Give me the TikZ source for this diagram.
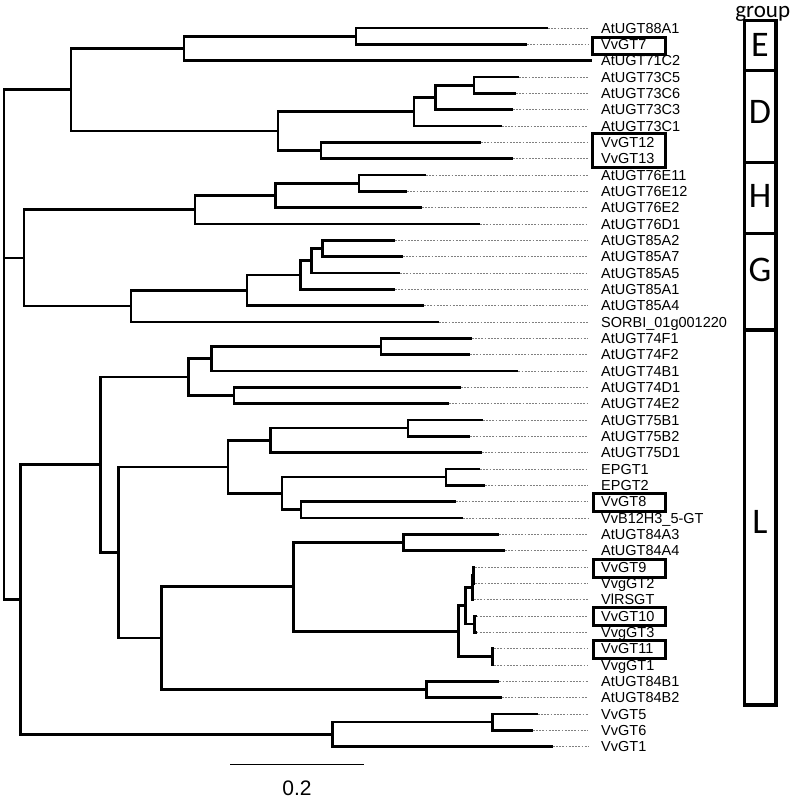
\documentclass[tikz,border=0pt]{standalone}
\usepackage{fontspec}
\newfontfamily\arialfont{Liberation Sans}
\newfontfamily\calibrifont{Carlito}
\usetikzlibrary{positioning}
\tikzset{
  branch/.style={black, line width=2.7pt, line join=miter},
  guide/.style={gray, line width=0.7pt, dash pattern=on 1.8pt off 1.4pt},
  taxon/.style={font=\arialfont\fontsize{14.5}{16}\selectfont, anchor=west, inner xsep=13pt, inner ysep=0pt, text height=10.4pt, text depth=0pt},
  tagbox/.style={black, line width=3pt},
  groupbox/.style={black, line width=3.3pt},
  grouptag/.style={font=\calibrifont\fontsize{36}{40}\selectfont, inner sep=0pt},
}

\begin{document}
\begin{tikzpicture}[x=1pt,y=-1pt]
\useasboundingbox (0,0) rectangle (796,798);
% inner nodes of the tree
\coordinate (root) at (4,257.9);
\coordinate (nED) at (71,89.8);
\coordinate (nE1) at (184,48.4);
\coordinate (nE2) at (356,36.2);
\coordinate (nD1) at (278,131.1);
\coordinate (nD2) at (414,111.7);
\coordinate (nD3) at (435.7,97.4);
\coordinate (nD4) at (474,85.2);
\coordinate (nD5) at (321,150.5);
\coordinate (nHG) at (24,257.9);
\coordinate (nH1) at (195,209.7);
\coordinate (nH2) at (275.7,195.4);
\coordinate (nH3) at (359,183.2);
\coordinate (nG1) at (131,306.1);
\coordinate (nG2) at (247,290.3);
\coordinate (nG3) at (300.7,275);
\coordinate (nG4) at (311.7,260.7);
\coordinate (nG5) at (322.7,248.5);
\coordinate (nL) at (20.7,599.6);
\coordinate (nLup) at (100.7,464.8);
\coordinate (nL74) at (188.3,377.1);
\coordinate (nL74b) at (211.7,358.7);
\coordinate (nL74a) at (381,346.5);
\coordinate (nL74c) at (234,395.5);
\coordinate (nLlow) at (118.3,552.5);
\coordinate (nLmid) at (228,466.9);
\coordinate (nL75) at (270.7,440.4);
\coordinate (nL75a) at (408,428.1);
\coordinate (nLEV) at (282,493.4);
\coordinate (nLEP) at (446,477.1);
\coordinate (nLV8) at (301,509.8);
\coordinate (nL84) at (161.3,638.1);
\coordinate (nL84Ag) at (293.3,586.8);
\coordinate (nL84A) at (403.3,542.4);
\coordinate (nLgr) at (458.3,631.2);
\coordinate (nLg12) at (465.7,605.7);
\coordinate (nLg1) at (472.3,587.3);
\coordinate (nLg1a) at (473.3,575.1);
\coordinate (nLg2) at (474.7,624.1);
\coordinate (nLg3) at (492.3,656.7);
\coordinate (nL84B) at (426.7,689.4);
\coordinate (nV1) at (332.3,734.3);
\coordinate (nV56) at (492.7,722.0);
% inner branches
\draw[branch] (root) |- (nED); \draw[branch] (root) |- (nHG); \draw[branch] (root) |- (nL);
\draw[branch] (nED) |- (nE1); \draw[branch] (nED) |- (nD1);
\draw[branch] (nE1) |- (nE2);
\draw[branch] (nD1) |- (nD2); \draw[branch] (nD1) |- (nD5);
\draw[branch] (nD2) |- (nD3); \draw[branch] (nD3) |- (nD4);
\draw[branch] (nHG) |- (nH1); \draw[branch] (nHG) |- (nG1);
\draw[branch] (nH1) |- (nH2); \draw[branch] (nH2) |- (nH3);
\draw[branch] (nG1) |- (nG2); \draw[branch] (nG2) |- (nG3);
\draw[branch] (nG3) |- (nG4); \draw[branch] (nG4) |- (nG5);
\draw[branch] (nL) |- (nLup); \draw[branch] (nL) |- (nV1);
\draw[branch] (nLup) |- (nL74); \draw[branch] (nLup) |- (nLlow);
\draw[branch] (nL74) |- (nL74b); \draw[branch] (nL74) |- (nL74c);
\draw[branch] (nL74b) |- (nL74a);
\draw[branch] (nLlow) |- (nLmid); \draw[branch] (nLlow) |- (nL84);
\draw[branch] (nLmid) |- (nL75); \draw[branch] (nLmid) |- (nLEV);
\draw[branch] (nL75) |- (nL75a);
\draw[branch] (nLEV) |- (nLEP); \draw[branch] (nLEV) |- (nLV8);
\draw[branch] (nL84) |- (nL84Ag); \draw[branch] (nL84) |- (nL84B);
\draw[branch] (nL84Ag) |- (nL84A); \draw[branch] (nL84Ag) |- (nLgr);
\draw[branch] (nLgr) |- (nLg12); \draw[branch] (nLgr) |- (nLg3);
\draw[branch] (nLg12) |- (nLg1); \draw[branch] (nLg12) |- (nLg2);
\draw[branch] (nLg1) |- (nLg1a);
\draw[branch] (nV1) |- (nV56);
% leaves
\coordinate (t0) at (548,28.0); \node[taxon] (l0) at (588,28.0) {AtUGT88A1}; \draw[branch] (nE2) |- (t0); \draw[guide] (t0) -- (l0.west);
\coordinate (t1) at (527,44.3); \node[taxon] (l1) at (588,44.3) {VvGT7}; \draw[branch] (nE2) |- (t1); \draw[guide] (t1) -- (l1.west);
\coordinate (t2) at (592,60.7); \node[taxon] (l2) at (588,60.7) {AtUGT71C2}; \draw[branch] (nE1) |- (t2);
\coordinate (t3) at (519,77.0); \node[taxon] (l3) at (588,77.0) {AtUGT73C5}; \draw[branch] (nD4) |- (t3); \draw[guide] (t3) -- (l3.west);
\coordinate (t4) at (516,93.3); \node[taxon] (l4) at (588,93.3) {AtUGT73C6}; \draw[branch] (nD4) |- (t4); \draw[guide] (t4) -- (l4.west);
\coordinate (t5) at (513,109.7); \node[taxon] (l5) at (588,109.7) {AtUGT73C3}; \draw[branch] (nD3) |- (t5); \draw[guide] (t5) -- (l5.west);
\coordinate (t6) at (501.7,126.0); \node[taxon] (l6) at (588,126.0) {AtUGT73C1}; \draw[branch] (nD2) |- (t6); \draw[guide] (t6) -- (l6.west);
\coordinate (t7) at (481,142.3); \node[taxon] (l7) at (588,142.3) {VvGT12}; \draw[branch] (nD5) |- (t7); \draw[guide] (t7) -- (l7.west);
\coordinate (t8) at (512.7,158.6); \node[taxon] (l8) at (588,158.6) {VvGT13}; \draw[branch] (nD5) |- (t8); \draw[guide] (t8) -- (l8.west);
\coordinate (t9) at (426,175.0); \node[taxon] (l9) at (588,175.0) {AtUGT76E11}; \draw[branch] (nH3) |- (t9); \draw[guide] (t9) -- (l9.west);
\coordinate (t10) at (407,191.3); \node[taxon] (l10) at (588,191.3) {AtUGT76E12}; \draw[branch] (nH3) |- (t10); \draw[guide] (t10) -- (l10.west);
\coordinate (t11) at (421.7,207.6); \node[taxon] (l11) at (588,207.6) {AtUGT76E2}; \draw[branch] (nH2) |- (t11); \draw[guide] (t11) -- (l11.west);
\coordinate (t12) at (480,224.0); \node[taxon] (l12) at (588,224.0) {AtUGT76D1}; \draw[branch] (nH1) |- (t12); \draw[guide] (t12) -- (l12.west);
\coordinate (t13) at (395,240.3); \node[taxon] (l13) at (588,240.3) {AtUGT85A2}; \draw[branch] (nG5) |- (t13); \draw[guide] (t13) -- (l13.west);
\coordinate (t14) at (402.7,256.6); \node[taxon] (l14) at (588,256.6) {AtUGT85A7}; \draw[branch] (nG5) |- (t14); \draw[guide] (t14) -- (l14.west);
\coordinate (t15) at (400,273.0); \node[taxon] (l15) at (588,273.0) {AtUGT85A5}; \draw[branch] (nG4) |- (t15); \draw[guide] (t15) -- (l15.west);
\coordinate (t16) at (395,289.3); \node[taxon] (l16) at (588,289.3) {AtUGT85A1}; \draw[branch] (nG3) |- (t16); \draw[guide] (t16) -- (l16.west);
\coordinate (t17) at (424,305.6); \node[taxon] (l17) at (588,305.6) {AtUGT85A4}; \draw[branch] (nG2) |- (t17); \draw[guide] (t17) -- (l17.west);
\coordinate (t18) at (439,321.9); \node[taxon] (l18) at (588,321.9) {SORBI\_01g001220}; \draw[branch] (nG1) |- (t18); \draw[guide] (t18) -- (l18.west);
\coordinate (t19) at (471.7,338.3); \node[taxon] (l19) at (588,338.3) {AtUGT74F1}; \draw[branch] (nL74a) |- (t19); \draw[guide] (t19) -- (l19.west);
\coordinate (t20) at (470,354.6); \node[taxon] (l20) at (588,354.6) {AtUGT74F2}; \draw[branch] (nL74a) |- (t20); \draw[guide] (t20) -- (l20.west);
\coordinate (t21) at (518.3,370.9); \node[taxon] (l21) at (588,370.9) {AtUGT74B1}; \draw[branch] (nL74b) |- (t21); \draw[guide] (t21) -- (l21.west);
\coordinate (t22) at (461,387.3); \node[taxon] (l22) at (588,387.3) {AtUGT74D1}; \draw[branch] (nL74c) |- (t22); \draw[guide] (t22) -- (l22.west);
\coordinate (t23) at (449,403.6); \node[taxon] (l23) at (588,403.6) {AtUGT74E2}; \draw[branch] (nL74c) |- (t23); \draw[guide] (t23) -- (l23.west);
\coordinate (t24) at (482.7,419.9); \node[taxon] (l24) at (588,419.9) {AtUGT75B1}; \draw[branch] (nL75a) |- (t24); \draw[guide] (t24) -- (l24.west);
\coordinate (t25) at (470,436.3); \node[taxon] (l25) at (588,436.3) {AtUGT75B2}; \draw[branch] (nL75a) |- (t25); \draw[guide] (t25) -- (l25.west);
\coordinate (t26) at (481.7,452.6); \node[taxon] (l26) at (588,452.6) {AtUGT75D1}; \draw[branch] (nL75) |- (t26); \draw[guide] (t26) -- (l26.west);
\coordinate (t27) at (480,468.9); \node[taxon] (l27) at (588,468.9) {EPGT1}; \draw[branch] (nLEP) |- (t27); \draw[guide] (t27) -- (l27.west);
\coordinate (t28) at (485,485.2); \node[taxon] (l28) at (588,485.2) {EPGT2}; \draw[branch] (nLEP) |- (t28); \draw[guide] (t28) -- (l28.west);
\coordinate (t29) at (455.7,501.6); \node[taxon] (l29) at (588,501.6) {VvGT8}; \draw[branch] (nLV8) |- (t29); \draw[guide] (t29) -- (l29.west);
\coordinate (t30) at (462.7,517.9); \node[taxon] (l30) at (588,517.9) {VvB12H3\_5-GT}; \draw[branch] (nLV8) |- (t30); \draw[guide] (t30) -- (l30.west);
\coordinate (t31) at (499,534.2); \node[taxon] (l31) at (588,534.2) {AtUGT84A3}; \draw[branch] (nL84A) |- (t31); \draw[guide] (t31) -- (l31.west);
\coordinate (t32) at (505,550.6); \node[taxon] (l32) at (588,550.6) {AtUGT84A4}; \draw[branch] (nL84A) |- (t32); \draw[guide] (t32) -- (l32.west);
\coordinate (t33) at (475,566.9); \node[taxon] (l33) at (588,566.9) {VvGT9}; \draw[branch] (nLg1a) |- (t33); \draw[guide] (t33) -- (l33.west);
\coordinate (t34) at (475,583.2); \node[taxon] (l34) at (588,583.2) {VvgGT2}; \draw[branch] (nLg1a) |- (t34); \draw[guide] (t34) -- (l34.west);
\coordinate (t35) at (474,599.6); \node[taxon] (l35) at (588,599.6) {VlRSGT}; \draw[branch] (nLg1) |- (t35); \draw[guide] (t35) -- (l35.west);
\coordinate (t36) at (476.5,615.9); \node[taxon] (l36) at (588,615.9) {VvGT10}; \draw[branch] (nLg2) |- (t36); \draw[guide] (t36) -- (l36.west);
\coordinate (t37) at (476.5,632.2); \node[taxon] (l37) at (588,632.2) {VvgGT3}; \draw[branch] (nLg2) |- (t37); \draw[guide] (t37) -- (l37.west);
\coordinate (t38) at (494,648.5); \node[taxon] (l38) at (588,648.5) {VvGT11}; \draw[branch] (nLg3) |- (t38); \draw[guide] (t38) -- (l38.west);
\coordinate (t39) at (494,664.9); \node[taxon] (l39) at (588,664.9) {VvgGT1}; \draw[branch] (nLg3) |- (t39); \draw[guide] (t39) -- (l39.west);
\coordinate (t40) at (499.3,681.2); \node[taxon] (l40) at (588,681.2) {AtUGT84B1}; \draw[branch] (nL84B) |- (t40); \draw[guide] (t40) -- (l40.west);
\coordinate (t41) at (501.7,697.5); \node[taxon] (l41) at (588,697.5) {AtUGT84B2}; \draw[branch] (nL84B) |- (t41); \draw[guide] (t41) -- (l41.west);
\coordinate (t42) at (537.7,713.9); \node[taxon] (l42) at (588,713.9) {VvGT5}; \draw[branch] (nV56) |- (t42); \draw[guide] (t42) -- (l42.west);
\coordinate (t43) at (532.7,730.2); \node[taxon] (l43) at (588,730.2) {VvGT6}; \draw[branch] (nV56) |- (t43); \draw[guide] (t43) -- (l43.west);
\coordinate (t44) at (552.7,746.5); \node[taxon] (l44) at (588,746.5) {VvGT1}; \draw[branch] (nV1) |- (t44); \draw[guide] (t44) -- (l44.west);
% boxed grape genes
\draw[tagbox] (592.7,37.3) rectangle (665,54.3);
\draw[tagbox] (592.7,133.3) rectangle (665,167.7);
\draw[tagbox] (593,493.3) rectangle (665,511.7);
\draw[tagbox] (593,559.3) rectangle (665,577.3);
\draw[tagbox] (593,607.3) rectangle (665,625.7);
\draw[tagbox] (593,640.7) rectangle (665,658.3);
% group column
\node[font=\calibrifont\fontsize{23}{27}\selectfont, anchor=base, inner sep=0pt, text height=11pt, text depth=5pt] (grouphead) at (762.7,17) {group};
\draw[groupbox] (744.3,20.7) rectangle (776,705);
\draw[groupbox] (744.3,70.7) -- (776,70.7);
\draw[groupbox] (744.3,162.3) -- (776,162.3);
\draw[groupbox] (744.3,233.3) -- (776,233.3);
\draw[groupbox] (744.3,330) -- (776,330);
\node[grouptag] (gE) at (760,45) {E};
\node[grouptag] (gD) at (760,111.7) {D};
\node[grouptag] (gH) at (760,196) {H};
\node[grouptag] (gG) at (760,270) {G};
\node[grouptag] (gL) at (760,522) {L};
% scale bar
\coordinate (s0) at (230,764.3);
\coordinate (s1) at (364.3,764.3);
\draw[black, line width=1.3pt] (s0) -- (s1);
\node[font=\arialfont\fontsize{21}{24}\selectfont, anchor=base, inner sep=0pt] (scalelab) at (297,795) {0.2};
\end{tikzpicture}
\end{document}
